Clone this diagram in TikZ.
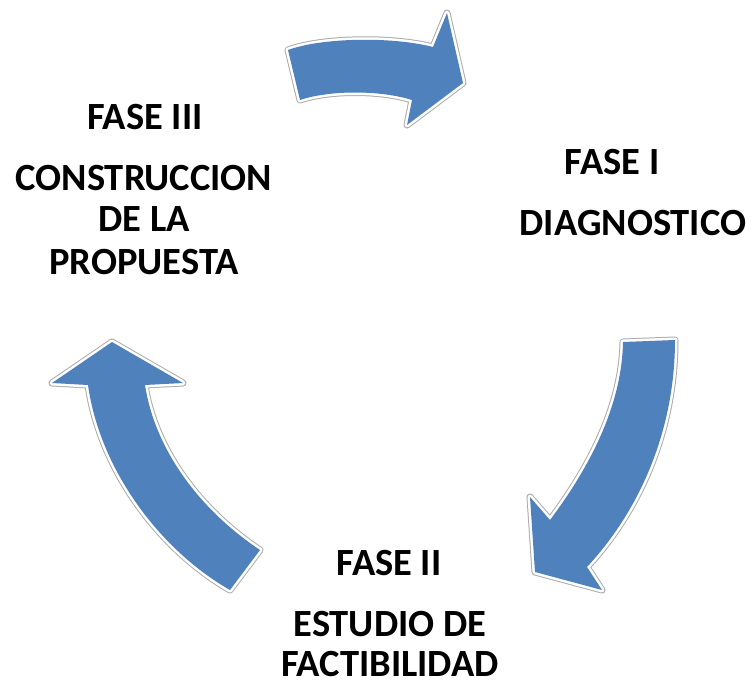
\documentclass[tikz,border=0pt]{standalone}
\usepackage{fontspec}
\setmainfont{Carlito}
\definecolor{arrowblue}{RGB}{79,129,189}
\tikzset{
  blockarrow/.style={fill=arrowblue, line join=round,
    preaction={draw=gray!65, line width=7pt, line join=round},
    preaction={draw=white, line width=5pt, line join=round}},
  lbl/.style={anchor=base, inner sep=0pt, text depth=0pt, font=\fontsize{38.5}{46}\selectfont\bfseries}
}
\begin{document}
\begin{tikzpicture}[x=1pt,y=-1pt]
\useasboundingbox (0,0) rectangle (753,682);
% top arrow (Fase III -> Fase I)
\path[blockarrow] (288,50) .. controls (320,38) and (390,36) .. (433,47) -- (447,13) -- (463,83) -- (407,125) -- (412,100) .. controls (380,90) and (330,90) .. (300,100) -- cycle;
% right arrow (Fase I -> Fase II)
\path[blockarrow] (623,342) -- (675,340) .. controls (675,430) and (640,510) .. (587,567) -- (602,590) -- (535,572) -- (530,497) -- (550,520) .. controls (595,460) and (622,400) .. (623,342) -- cycle;
% left arrow (Fase II -> Fase III)
\path[blockarrow] (112,342) -- (183,383) -- (145,385) .. controls (155,450) and (200,510) .. (260,550) -- (230,590) .. controls (160,550) and (100,470) .. (88,385) -- (52,383) -- cycle;
% labels
\node[lbl] (f3a) at (145,130) {FASE III};
\node[lbl] (f3b) at (144,191) {CONSTRUCCION};
\node[lbl] (f3c) at (144,232) {DE LA};
\node[lbl] (f3d) at (144,274) {PROPUESTA};
\node[lbl] (f1a) at (612,175) {FASE I};
\node[lbl] (f1b) at (633,236) {DIAGNOSTICO};
\node[lbl] (f2a) at (389,575) {FASE II};
\node[lbl] (f2b) at (390,636) {ESTUDIO DE};
\node[lbl] (f2c) at (390,676) {FACTIBILIDAD};
\end{tikzpicture}
\end{document}
